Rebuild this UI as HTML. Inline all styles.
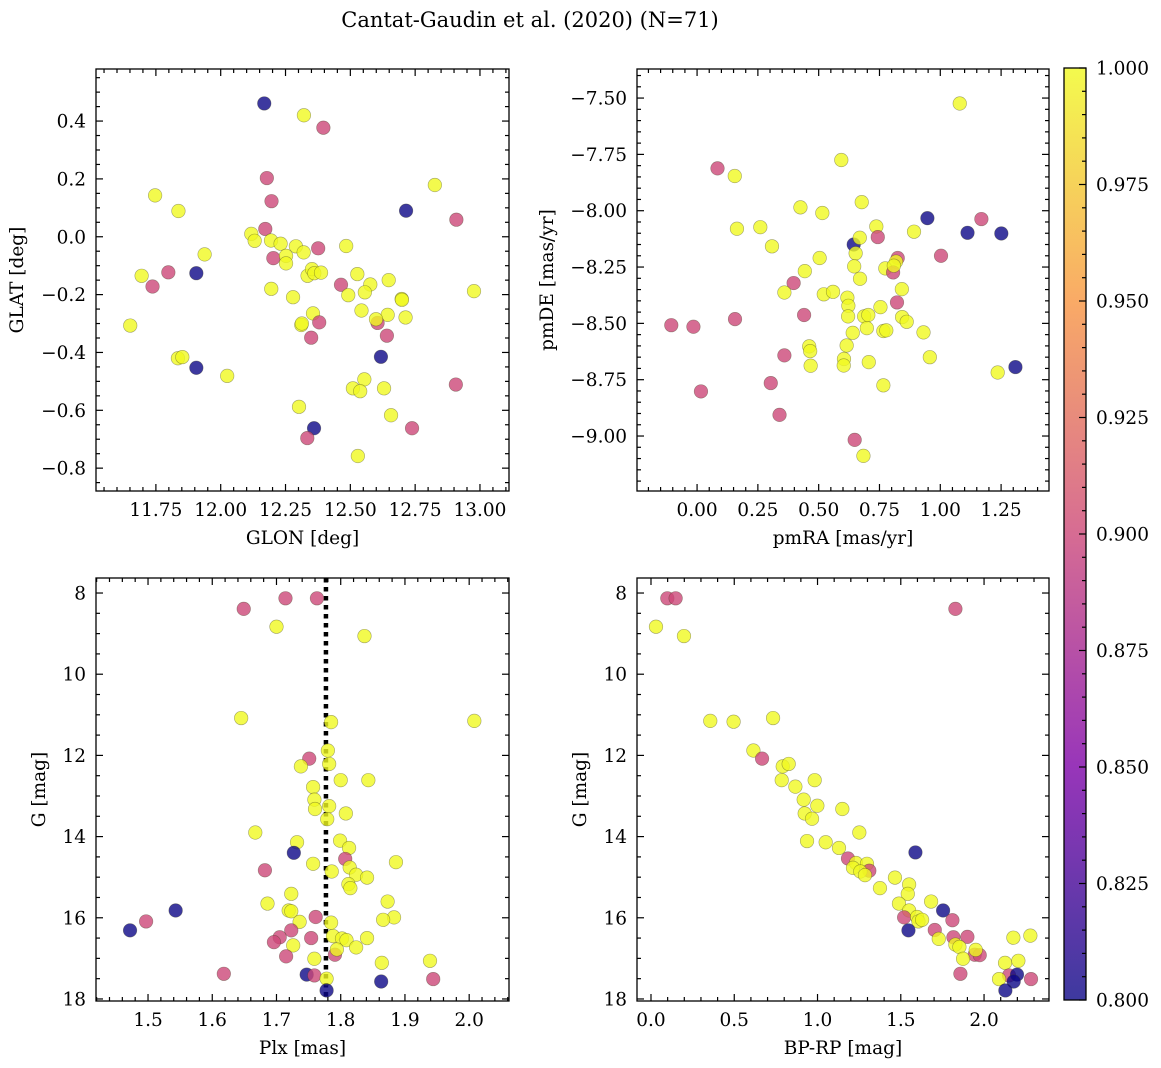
<!DOCTYPE html>
<html><head><meta charset="utf-8"><title>Cantat-Gaudin et al. (2020)</title>
<style>
html,body{margin:0;padding:0;background:#fff;}
svg{display:block;font-family:"DejaVu Serif","Liberation Serif",serif;}
</style></head>
<body>
<svg id="fig" width="1161" height="1068" viewBox="0 0 1161 1068" xmlns="http://www.w3.org/2000/svg">
<text x="530" y="27" font-size="21" text-anchor="middle">Cantat-Gaudin et al. (2020) (N=71)</text>
</svg>
<script>
// ---------- DATA ----------
const tlGlon=[12.168,12.321,12.396,12.178,11.747,11.837,12.826,12.715,12.909,12.196,12.172,12.118,12.131,12.194,12.231,12.290,12.320,12.376,12.484,11.938,12.203,12.252,12.252,11.695,11.798,11.906,11.737,12.335,12.352,12.361,12.387,12.527,12.648,12.464,12.577,12.195,12.977,12.556,12.492,12.279,12.698,12.699,12.543,12.356,12.644,12.713,12.605,12.599,12.380,12.311,12.313,11.651,12.641,12.349,12.618,11.835,11.852,11.906,12.025,12.907,12.554,12.510,12.538,12.630,12.302,12.657,12.360,12.738,12.334,12.529];
const tlGlat=[0.461,0.420,0.377,0.203,0.143,0.089,0.179,0.090,0.059,0.123,0.027,0.010,-0.014,-0.013,-0.024,-0.033,-0.054,-0.040,-0.032,-0.061,-0.074,-0.066,-0.092,-0.135,-0.123,-0.126,-0.172,-0.135,-0.112,-0.126,-0.124,-0.129,-0.150,-0.166,-0.165,-0.180,-0.188,-0.192,-0.202,-0.209,-0.215,-0.218,-0.255,-0.265,-0.270,-0.279,-0.298,-0.285,-0.296,-0.305,-0.300,-0.307,-0.342,-0.349,-0.415,-0.420,-0.416,-0.453,-0.481,-0.511,-0.493,-0.524,-0.534,-0.524,-0.588,-0.617,-0.662,-0.662,-0.696,-0.758];
const tlProb=[0.8,1,0.9,0.9,1,1,1,0.8,0.9,0.9,0.9,1,1,1,1,1,1,0.9,1,1,0.9,1,1,1,0.9,0.8,0.9,1,1,1,1,1,1,0.9,1,1,1,1,1,1,1,1,1,1,1,1,0.9,1,0.9,1,1,1,0.9,0.9,0.8,1,1,0.8,1,0.9,1,1,1,1,1,1,0.8,0.9,0.9,1];
const trPmra=[1.08,0.593,0.084,0.155,0.677,0.425,0.515,0.947,1.169,0.164,0.260,0.737,0.892,1.112,1.251,0.644,0.669,0.743,0.308,0.652,1.003,0.504,0.825,0.818,0.774,0.806,0.809,0.646,0.443,0.670,0.397,0.359,0.521,0.559,0.842,0.618,0.622,0.822,0.754,-0.106,-0.015,0.156,0.440,0.621,0.687,0.704,0.843,0.862,0.698,0.766,0.778,0.640,0.931,0.461,0.465,0.615,0.359,0.604,0.603,0.467,0.706,0.957,1.309,1.236,0.303,0.766,0.016,0.339,0.648,0.684];
const trPmde=[-7.524,-7.775,-7.812,-7.846,-7.962,-7.985,-8.010,-8.033,-8.037,-8.080,-8.073,-8.070,-8.093,-8.098,-8.101,-8.150,-8.120,-8.117,-8.158,-8.189,-8.200,-8.210,-8.210,-8.226,-8.256,-8.274,-8.244,-8.247,-8.268,-8.302,-8.321,-8.363,-8.371,-8.360,-8.348,-8.386,-8.422,-8.407,-8.428,-8.508,-8.515,-8.481,-8.463,-8.469,-8.469,-8.463,-8.472,-8.493,-8.521,-8.534,-8.531,-8.542,-8.540,-8.602,-8.623,-8.598,-8.642,-8.658,-8.687,-8.688,-8.672,-8.650,-8.694,-8.718,-8.765,-8.775,-8.802,-8.906,-9.017,-9.088];
const trProb=[1,1,0.9,1,1,1,1,0.8,0.9,1,1,1,1,0.8,0.8,0.8,1,0.9,1,1,0.9,1,0.9,1,1,0.9,1,1,1,1,0.9,1,1,1,1,1,1,0.9,1,0.9,0.9,0.9,0.9,1,1,1,1,1,1,1,1,1,1,1,1,1,0.9,1,1,1,1,1,0.8,1,0.9,1,0.9,0.9,0.9,1];
const blPlx=[1.714,1.763,1.649,1.700,1.837,1.645,1.785,2.008,1.780,1.751,1.738,1.782,1.800,1.843,1.757,1.759,1.760,1.782,1.808,1.779,1.667,1.732,1.799,1.813,1.727,1.807,1.757,1.886,1.786,1.814,1.824,1.841,1.682,1.812,1.815,1.723,1.873,1.686,1.543,1.719,1.723,1.761,1.883,1.866,1.497,1.736,1.785,1.472,1.723,1.705,1.696,1.754,1.788,1.802,1.809,1.841,1.824,1.726,1.791,1.794,1.715,1.759,1.864,1.939,1.618,1.747,1.759,1.778,1.863,1.944,1.778];
const blG=[8.13,8.13,8.39,8.83,9.06,11.08,11.18,11.15,11.88,12.08,12.27,12.21,12.61,12.61,12.78,13.09,13.32,13.25,13.43,13.57,13.90,14.14,14.10,14.28,14.40,14.55,14.67,14.63,14.86,14.76,14.94,15.01,14.83,15.17,15.27,15.41,15.60,15.65,15.82,15.82,15.84,15.98,15.99,16.05,16.09,16.10,16.12,16.31,16.31,16.48,16.60,16.50,16.45,16.51,16.55,16.50,16.73,16.68,16.91,16.78,16.95,17.01,17.11,17.06,17.38,17.40,17.42,17.50,17.57,17.51,17.79];
const blProb=[0.9,0.9,0.9,1,1,1,1,1,1,0.9,1,1,1,1,1,1,1,1,1,1,1,1,1,1,0.8,0.9,1,1,1,1,1,1,0.9,1,1,1,1,1,0.8,1,1,0.9,1,1,0.9,1,1,0.8,0.9,0.9,0.9,0.9,1,1,1,1,1,1,0.9,1,0.9,1,1,1,0.9,0.8,0.9,1,0.8,0.9,0.8];
const brBprp=[0.098,0.148,1.828,0.030,0.198,0.356,0.496,0.733,0.615,0.667,0.791,0.827,0.785,0.983,0.867,0.917,0.999,0.923,0.967,1.149,1.251,0.937,1.049,1.129,1.588,1.183,1.231,1.213,1.297,1.311,1.257,1.285,1.465,1.375,1.550,1.542,1.682,1.489,1.754,1.550,1.520,1.810,1.598,1.606,1.628,1.546,1.704,1.728,1.816,1.900,1.828,1.852,1.944,1.974,1.950,1.874,1.858,2.176,2.278,2.126,2.206,2.150,2.198,2.178,2.090,2.282,2.128];
const brG=[8.13,8.13,8.39,8.83,9.06,11.15,11.17,11.08,11.88,12.08,12.27,12.21,12.61,12.61,12.77,13.09,13.24,13.43,13.56,13.32,13.90,14.11,14.14,14.28,14.39,14.54,14.65,14.77,14.67,14.84,14.86,14.95,15.01,15.27,15.18,15.41,15.60,15.65,15.82,15.82,15.99,16.06,15.98,16.09,16.05,16.31,16.30,16.52,16.48,16.47,16.66,16.72,16.91,16.92,16.79,17.01,17.38,16.49,16.44,17.11,17.06,17.42,17.40,17.57,17.51,17.51,17.79];
const brProb=[0.9,0.9,0.9,1,1,1,1,1,1,0.9,1,1,1,1,1,1,1,1,1,1,1,1,1,1,0.8,0.9,1,1,1,0.9,1,1,1,1,1,1,1,1,0.8,1,0.9,0.9,1,1,1,0.8,0.9,1,0.9,0.9,1,1,0.9,0.9,1,1,0.9,1,1,1,1,0.9,0.8,0.8,1,0.9,0.8];
const tlXTicks=[11.75,12.00,12.25,12.50,12.75,13.00];
const tlYTicks=[0.4,0.2,0.0,-0.2,-0.4,-0.6,-0.8];
const trXTicks=[0.00,0.25,0.50,0.75,1.00,1.25];
const trYTicks=[-7.50,-7.75,-8.00,-8.25,-8.50,-8.75,-9.00];
const blXTicks=[1.5,1.6,1.7,1.8,1.9,2.0];
const gTicks=[8,10,12,14,16,18];
const brXTicks=[0.0,0.5,1.0,1.5,2.0];
const cbTicks=[0.800,0.825,0.850,0.875,0.900,0.925,0.950,0.975,1.000];
const plxMean=1.777;

// ---------- DRAWING ----------
const NS="http://www.w3.org/2000/svg";
const svg=document.getElementById("fig");
const FS=18.5;
function mk(tag,attrs,parent){const e=document.createElementNS(NS,tag);for(const k in attrs)e.setAttribute(k,attrs[k]);(parent||svg).appendChild(e);return e;}
const stops=[[0,[13,8,135]],[0.25,[126,3,168]],[0.5,[204,71,120]],[0.75,[248,149,64]],[1,[240,249,33]]];
function plasma(t){t=Math.max(0,Math.min(1,t));for(let i=1;i<stops.length;i++){if(t<=stops[i][0]){const a=stops[i-1],b=stops[i];const f=(t-a[0])/(b[0]-a[0]);const c=a[1].map((v,j)=>Math.round(v+(b[1][j]-v)*f));return `rgb(${c[0]},${c[1]},${c[2]})`;}}return "rgb(240,249,33)";}
function fmt(v,d){return v.toFixed(d).replace("-","\u2212");}

function panel(cfg){
  const g=mk("g",{});
  
  
  const sx=v=>cfg.x0+(v-cfg.xmin)/(cfg.xmax-cfg.xmin)*(cfg.x1-cfg.x0);
  const sy=v=>cfg.y0+(v-cfg.ytop)/(cfg.ybot-cfg.ytop)*(cfg.y1-cfg.y0);
  if(cfg.vline!==undefined){
    const l=mk("line",{x1:sx(cfg.vline),x2:sx(cfg.vline),y1:cfg.y0,y2:cfg.y1,stroke:"#000","stroke-width":4.5,"stroke-dasharray":"4.5 4.5"},g);
    
    
  }
  for(let i=0;i<cfg.xs.length;i++){
    const c=mk("circle",{cx:sx(cfg.xs[i]),cy:sy(cfg.ys[i]),r:6.8,fill:plasma((cfg.cs[i]-0.8)/0.2),"fill-opacity":0.8,stroke:"rgba(60,60,30,0.45)","stroke-width":0.6},g);
    
    
  }
  const fr=mk("rect",{x:cfg.x0,y:cfg.y0,width:cfg.x1-cfg.x0,height:cfg.y1-cfg.y0,fill:"none",stroke:"#000","stroke-width":1.3},g);
  
  
  const lo=Math.min(cfg.xmin,cfg.xmax),hi=Math.max(cfg.xmin,cfg.xmax);
  for(let k=Math.ceil(lo/cfg.xminor-1e-6);k*cfg.xminor<=hi+1e-9;k++){
    const v=k*cfg.xminor;const x=sx(v);
    const major=Math.abs(v/cfg.xmajor-Math.round(v/cfg.xmajor))<1e-6;const L=major?7:4;
    mk("line",{x1:x,x2:x,y1:cfg.y1,y2:cfg.y1-L,stroke:"#000","stroke-width":1.2},g);
    mk("line",{x1:x,x2:x,y1:cfg.y0,y2:cfg.y0+L,stroke:"#000","stroke-width":1.2},g);
  }
  const ylo=Math.min(cfg.ytop,cfg.ybot),yhi=Math.max(cfg.ytop,cfg.ybot);
  for(let k=Math.ceil(ylo/cfg.yminor-1e-6);k*cfg.yminor<=yhi+1e-9;k++){
    const v=k*cfg.yminor;const y=sy(v);
    const major=Math.abs(v/cfg.ymajor-Math.round(v/cfg.ymajor))<1e-6;const L=major?7:4;
    mk("line",{x1:cfg.x0,x2:cfg.x0+L,y1:y,y2:y,stroke:"#000","stroke-width":1.2},g);
    mk("line",{x1:cfg.x1,x2:cfg.x1-L,y1:y,y2:y,stroke:"#000","stroke-width":1.2},g);
  }
  cfg.xticks.forEach(v=>{const t=mk("text",{x:sx(v),y:cfg.y1+25,"font-size":FS,"text-anchor":"middle"},g);t.textContent=fmt(v,cfg.xd);
    
    });
  cfg.yticks.forEach(v=>{const t=mk("text",{x:cfg.x0-10,y:sy(v)+6.5,"font-size":FS,"text-anchor":"end"},g);t.textContent=fmt(v,cfg.yd);
    
    });
  const xl=mk("text",{x:(cfg.x0+cfg.x1)/2,y:cfg.y1+53,"font-size":FS,"text-anchor":"middle"},g);xl.textContent=cfg.xlabel;
  
  
  const cy=(cfg.y0+cfg.y1)/2;
  const yl=mk("text",{x:cfg.ylx,y:cy,"font-size":FS,"text-anchor":"middle",transform:`rotate(-90 ${cfg.ylx} ${cy})`},g);yl.textContent=cfg.ylabel;
  
  
}

panel({name:"glon-glat-panel",x0:96,x1:509,y0:69,y1:491,xmin:11.519,xmax:13.112,ytop:0.580,ybot:-0.879,xmajor:0.25,xminor:0.05,ymajor:0.2,yminor:0.05,
  xs:tlGlon,ys:tlGlat,cs:tlProb,xticks:tlXTicks,yticks:tlYTicks,xd:2,yd:1,xlabel:"GLON [deg]",ylabel:"GLAT [deg]",ylx:23});
panel({name:"proper-motion-panel",x0:637,x1:1049,y0:69,y1:491,xmin:-0.247,xmax:1.447,ytop:-7.371,ybot:-9.244,xmajor:0.25,xminor:0.05,ymajor:0.25,yminor:0.05,
  xs:trPmra,ys:trPmde,cs:trProb,xticks:trXTicks,yticks:trYTicks,xd:2,yd:2,xlabel:"pmRA [mas/yr]",ylabel:"pmDE [mas/yr]",ylx:553});
panel({name:"parallax-mag-panel",x0:96,x1:509,y0:578,y1:1001,xmin:1.419,xmax:2.062,ytop:7.63,ybot:18.05,xmajor:0.1,xminor:0.02,ymajor:2,yminor:0.5,
  xs:blPlx,ys:blG,cs:blProb,xticks:blXTicks,yticks:gTicks,xd:1,yd:0,xlabel:"Plx [mas]",ylabel:"G [mag]",ylx:45,vline:plxMean});
panel({name:"cmd-panel",x0:637,x1:1049,y0:578,y1:1001,xmin:-0.084,xmax:2.39,ytop:7.63,ybot:18.05,xmajor:0.5,xminor:0.1,ymajor:2,yminor:0.5,
  xs:brBprp,ys:brG,cs:brProb,xticks:brXTicks,yticks:gTicks,xd:1,yd:0,xlabel:"BP-RP [mag]",ylabel:"G [mag]",ylx:586});

// colorbar
const cb=mk("g",{});


const defs=mk("defs",{},cb);
const lg=mk("linearGradient",{id:"plasmaGrad",x1:0,y1:1,x2:0,y2:0},defs);
for(let i=0;i<=20;i++){mk("stop",{offset:i/20,"stop-color":plasma(i/20),"stop-opacity":0.8},lg);}
const cbTop=68,cbBot=1000,cbX=1064,cbW=22;
mk("rect",{x:cbX,y:cbTop,width:cbW,height:cbBot-cbTop,fill:"url(#plasmaGrad)",stroke:"#000","stroke-width":1.3},cb);
const cyc=v=>cbBot-(v-0.8)/0.2*(cbBot-cbTop);
for(let k=0;k<=40;k++){const v=0.8+k*0.005;const major=k%5===0;
  mk("line",{x1:cbX+cbW,x2:cbX+cbW-(major?7:4),y1:cyc(v),y2:cyc(v),stroke:"#000","stroke-width":1.2},cb);}
cbTicks.forEach(v=>{
  const t=mk("text",{x:1096,y:cyc(v)+6.5,"font-size":FS},cb);t.textContent=v.toFixed(3);
  
  
});
</script>
</body></html>
